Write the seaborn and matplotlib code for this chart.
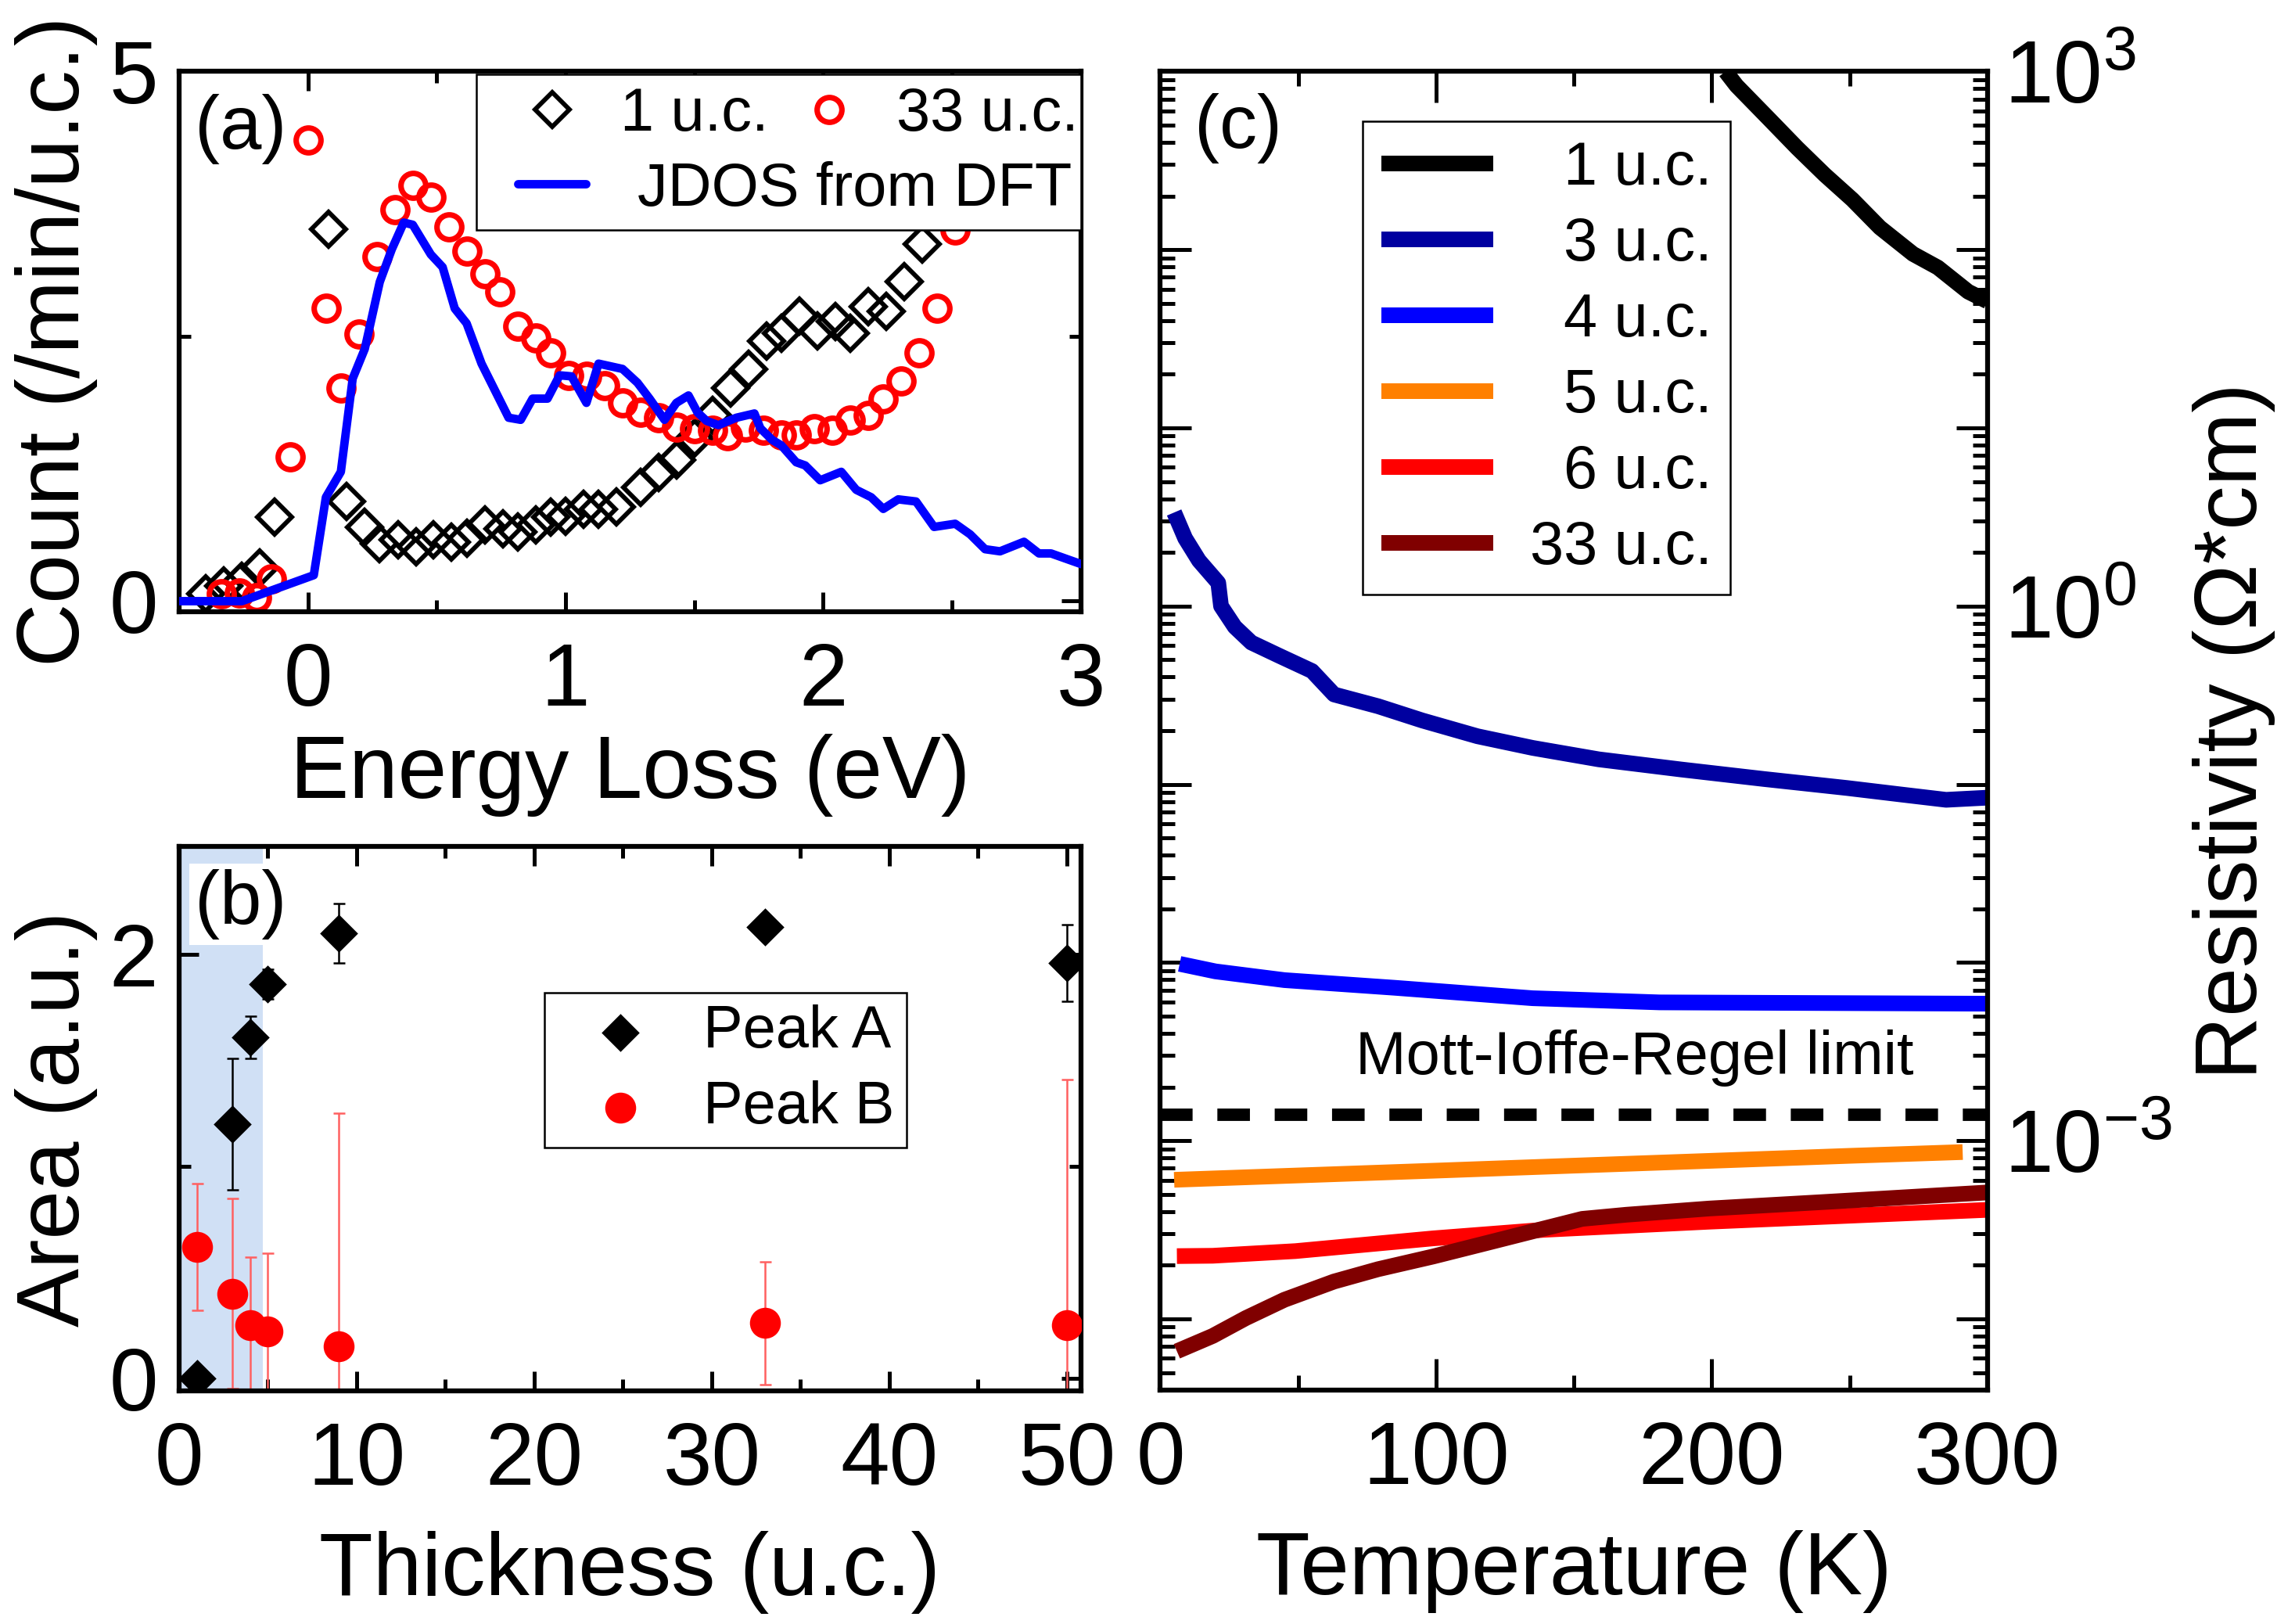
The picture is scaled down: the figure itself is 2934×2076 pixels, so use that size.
import numpy as np
import seaborn as sns
import matplotlib
matplotlib.use('Agg')
import matplotlib.pyplot as plt
from matplotlib.ticker import MultipleLocator, LogLocator, FuncFormatter, NullFormatter
from matplotlib.patches import Rectangle

sns.set_theme(style='ticks')
plt.rcParams['font.family'] = ['Liberation Sans', 'DejaVu Sans']
plt.rcParams['mathtext.fontset'] = 'custom'
plt.rcParams['mathtext.rm'] = 'Liberation Sans'
plt.rcParams['axes.linewidth'] = 1.5
plt.rcParams['axes.edgecolor'] = 'black'
for k in ['text.color', 'axes.labelcolor', 'xtick.color', 'ytick.color']:
    plt.rcParams[k] = 'black'

# (a) RIXS spectra: energy loss (eV) vs count
e_1uc = [-0.395, -0.326, -0.256, -0.186, -0.128, 0.081, 0.151, 0.221, 0.279, 0.349,
         0.419, 0.488, 0.558, 0.616, 0.686, 0.756, 0.814, 0.884, 0.942, 1.0,
         1.07, 1.128, 1.198, 1.291, 1.36, 1.43, 1.5, 1.57, 1.64, 1.709,
         1.779, 1.837, 1.907, 1.977, 2.047, 2.105, 2.174, 2.244, 2.314, 2.384]
cnt_1uc = [0.07, 0.14, 0.19, 0.31, 0.79, 3.51, 0.94, 0.70, 0.54, 0.58,
           0.51, 0.58, 0.56, 0.59, 0.72, 0.68, 0.65, 0.72, 0.79, 0.80,
           0.87, 0.87, 0.89, 1.07, 1.21, 1.33, 1.54, 1.75, 2.01, 2.19,
           2.45, 2.53, 2.69, 2.55, 2.64, 2.53, 2.78, 2.73, 3.01, 3.37]

e_33uc = [-0.337, -0.267, -0.198, -0.140, -0.07, 0.0, 0.07, 0.128, 0.198, 0.267,
          0.337, 0.407, 0.477, 0.547, 0.616, 0.686, 0.744, 0.814, 0.884, 0.942,
          1.012, 1.081, 1.151, 1.221, 1.291, 1.36, 1.43, 1.5, 1.57, 1.628,
          1.698, 1.767, 1.837, 1.895, 1.965, 2.035, 2.105, 2.174, 2.233, 2.302,
          2.372, 2.442, 2.512]
cnt_33uc = [0.07, 0.08, 0.03, 0.21, 1.36, 4.35, 2.76, 2.01, 2.52, 3.25,
            3.69, 3.92, 3.81, 3.53, 3.30, 3.09, 2.92, 2.59, 2.48, 2.34,
            2.13, 2.12, 2.03, 1.87, 1.78, 1.73, 1.64, 1.63, 1.61, 1.56,
            1.64, 1.61, 1.57, 1.57, 1.63, 1.61, 1.71, 1.75, 1.91, 2.08,
            2.34, 2.76, 3.50]

e_jdos = [-0.5, -0.256, 0.023, 0.07, 0.128, 0.174, 0.221, 0.279, 0.326, 0.372,
          0.407, 0.477, 0.523, 0.570, 0.616, 0.674, 0.779, 0.826, 0.872, 0.930,
          0.977, 1.023, 1.081, 1.128, 1.221, 1.279, 1.326, 1.384, 1.430, 1.477,
          1.512, 1.547, 1.593, 1.663, 1.733, 1.756, 1.802, 1.837, 1.895, 1.930,
          1.988, 2.070, 2.128, 2.186, 2.233, 2.291, 2.360, 2.430, 2.512, 2.570,
          2.628, 2.686, 2.779, 2.837, 2.884, 3.0]
cnt_jdos = [0.0, 0.0, 0.245, 0.98, 1.22, 2.10, 2.38, 3.01, 3.32, 3.57,
            3.55, 3.27, 3.15, 2.76, 2.62, 2.24, 1.73, 1.71, 1.91, 1.91,
            2.13, 2.12, 1.87, 2.24, 2.19, 2.06, 1.91, 1.71, 1.87, 1.94,
            1.78, 1.70, 1.66, 1.73, 1.77, 1.63, 1.52, 1.47, 1.31, 1.28,
            1.14, 1.22, 1.05, 0.98, 0.87, 0.96, 0.94, 0.70, 0.73, 0.63,
            0.49, 0.47, 0.56, 0.45, 0.45, 0.35]

# (b) peak areas vs thickness
thickness = [1, 3, 4, 5, 9, 33, 50]
area_a = [0.0, 1.20, 1.61, 1.86, 2.10, 2.13, 1.96]
err_a = [0.02, 0.31, 0.10, 0.07, 0.14, 0.03, 0.18]
area_b = [0.62, 0.40, 0.25, 0.22, 0.15, 0.26, 0.25]
err_b = [0.30, 0.45, 0.32, 0.37, 1.10, 0.29, 1.16]
shade_max = 4.7

# (c) resistivity (Ohm cm) vs temperature (K)
t_1uc = [205, 209, 221, 231, 241, 251, 261, 273, 282, 293, 300]
rho_1uc = [1000, 832, 537, 372, 263, 191, 133, 94.6, 79.4, 58.1, 51.3]
t_3uc = [5, 9, 14, 21, 22, 27, 33, 43, 55, 63, 79, 95, 115, 135, 159, 189, 219, 249, 269, 285, 300]
rho_3uc = [3.35, 2.40, 1.80, 1.35, 1.00, 0.764, 0.624, 0.527, 0.432, 0.319, 0.274, 0.228,
           0.186, 0.160, 0.138, 0.121, 0.107, 0.0953, 0.0875, 0.0818, 0.0841]
t_4uc = [7, 20, 45, 85, 135, 181, 239, 300]
rho_4uc = [9.82e-3, 8.91e-3, 7.96e-3, 7.21e-3, 6.30e-3, 5.97e-3, 5.92e-3, 5.87e-3]
t_5uc = [5, 50, 100, 150, 200, 250, 291]
rho_5uc = [6.03e-4, 6.38e-4, 6.79e-4, 7.24e-4, 7.71e-4, 8.22e-4, 8.63e-4]
t_6uc = [6, 19, 49, 99, 139, 199, 300]
rho_6uc = [2.25e-4, 2.26e-4, 2.40e-4, 2.83e-4, 3.16e-4, 3.51e-4, 4.09e-4]
t_33uc = [6, 19, 31, 45, 63, 79, 99, 119, 139, 153, 169, 199, 239, 300]
rho_33uc = [6.58e-5, 8.02e-5, 1.01e-4, 1.28e-4, 1.62e-4, 1.90e-4, 2.24e-4, 2.68e-4,
            3.21e-4, 3.64e-4, 3.84e-4, 4.16e-4, 4.51e-4, 5.12e-4]
mir_limit = 1.4e-3
labelled_decades = [-3, 0, 3]

res_series = [(t_1uc, rho_1uc, '  1 u.c.', '#000000'),
              (t_3uc, rho_3uc, '  3 u.c.', '#0000a0'),
              (t_4uc, rho_4uc, '  4 u.c.', '#0000ff'),
              (t_5uc, rho_5uc, '  5 u.c.', '#ff8000'),
              (t_6uc, rho_6uc, '  6 u.c.', '#ff0000'),
              (t_33uc, rho_33uc, '33 u.c.', '#800000')]

BIG = 27
SMALL = 18.6

fig = plt.figure(figsize=(9.78, 6.92), dpi=300)
ax_a = fig.add_axes([0.078, 0.6233, 0.393, 0.333])
ax_b = fig.add_axes([0.078, 0.1435, 0.393, 0.3353])
ax_c = fig.add_axes([0.5056, 0.144, 0.3604, 0.812])


def style_ticks(ax, major_len, minor_len):
    ax.tick_params(which='both', direction='in', top=True, right=True,
                   width=1.2, colors='black', labelsize=BIG)
    ax.tick_params(which='major', length=major_len)
    ax.tick_params(which='minor', length=minor_len)
    ax.tick_params(axis='x', pad=9)
    ax.tick_params(axis='y', pad=6.5)
    for s in ax.spines.values():
        s.set_linewidth(1.5)
        s.set_color('black')


# ---- panel (a)
sns.lineplot(x=e_1uc, y=cnt_1uc, ax=ax_a, estimator=None, sort=False, legend=False,
             linestyle='none', marker='D', markersize=7.4, markerfacecolor='none',
             markeredgecolor='black', markeredgewidth=1.4, label='1 u.c.', zorder=2)
sns.lineplot(x=e_33uc, y=cnt_33uc, ax=ax_a, estimator=None, sort=False, legend=False,
             linestyle='none', marker='o', markersize=7.6, markerfacecolor='none',
             markeredgecolor='red', markeredgewidth=1.7, label='33 u.c.', zorder=2)
sns.lineplot(x=e_jdos, y=cnt_jdos, ax=ax_a, estimator=None, sort=False, legend=False,
             color='#0000ff', linewidth=2.6, label='JDOS from DFT', zorder=3)
h_a = ax_a.get_lines()
ax_a.set_xlim(-0.5, 3)
ax_a.set_ylim(-0.1, 5)
ax_a.xaxis.set_major_locator(MultipleLocator(1))
ax_a.xaxis.set_minor_locator(MultipleLocator(0.5))
ax_a.yaxis.set_major_locator(MultipleLocator(5))
ax_a.yaxis.set_minor_locator(MultipleLocator(2.5))
style_ticks(ax_a, 6, 3.5)
ax_a.set_xlabel('Energy Loss (eV)', fontsize=BIG, labelpad=3)
ax_a.set_ylabel('Count (/min/u.c.)', fontsize=BIG, labelpad=3.5)
ax_a.text(0.068, 0.893, '(a)', transform=ax_a.transAxes, fontsize=23,
          ha='center', va='center')

ax_a.add_patch(Rectangle((0.3296, 0.706), 0.6704, 0.288, transform=ax_a.transAxes,
                         facecolor='white', edgecolor='black', linewidth=0.6, zorder=4))
leg_a1 = ax_a.legend(h_a[:2], ['1 u.c.', '33 u.c.'], ncol=2, loc='center left',
                     bbox_to_anchor=(0.380, 0.919), borderaxespad=0, borderpad=0,
                     frameon=False, fontsize=SMALL, handlelength=1.0,
                     handletextpad=0.62, columnspacing=0.5)
ax_a.add_artist(leg_a1)
ax_a.legend(h_a[2:3], ['JDOS from DFT'], loc='center left',
            bbox_to_anchor=(0.376, 0.781), borderaxespad=0, borderpad=0,
            frameon=False, fontsize=SMALL, handlelength=1.12, handletextpad=0.85)

# ---- panel (b)
ax_b.axvspan(0, shade_max, color='#d0e0f5', linewidth=0, zorder=0)
ax_b.errorbar(thickness, area_a, yerr=err_a, fmt='none', ecolor='black',
              elinewidth=0.6, capsize=1.8, capthick=0.6, zorder=2)
ax_b.errorbar(thickness, area_b, yerr=err_b, fmt='none', ecolor='#ff6060',
              elinewidth=0.6, capsize=1.8, capthick=0.6, zorder=2)
sns.scatterplot(x=thickness, y=area_a, ax=ax_b, marker='D', s=68, color='black',
                edgecolor='black', linewidth=0, legend=False, zorder=3)
sns.scatterplot(x=thickness, y=area_b, ax=ax_b, marker='o', s=90, color='#ff0000',
                edgecolor='#ff0000', linewidth=0, legend=False, zorder=3)
h_b = ax_b.collections[-2:]
ax_b.set_xlim(0, 50.8)
ax_b.set_ylim(-0.06, 2.51)
ax_b.xaxis.set_major_locator(MultipleLocator(10))
ax_b.xaxis.set_minor_locator(MultipleLocator(5))
ax_b.yaxis.set_major_locator(MultipleLocator(2))
ax_b.yaxis.set_minor_locator(MultipleLocator(1))
style_ticks(ax_b, 6, 3.5)
ax_b.set_xlabel('Thickness (u.c.)', fontsize=BIG, labelpad=8.5)
ax_b.set_ylabel('Area (a.u.)', fontsize=BIG, labelpad=3.5)
ax_b.text(0.068, 0.894, '(b)', transform=ax_b.transAxes, fontsize=23,
          ha='center', va='center', zorder=4,
          bbox=dict(facecolor='white', edgecolor='none', pad=1.5))
leg_b = ax_b.legend(h_b, ['Peak A', 'Peak B'], loc='upper left',
                    bbox_to_anchor=(0.405, 0.731), borderaxespad=0, fontsize=18.2,
                    handlelength=2.15, handletextpad=0.33, borderpad=0.2,
                    labelspacing=0.34, fancybox=False, edgecolor='black',
                    framealpha=1, scatterpoints=1)
leg_b.get_frame().set_linewidth(0.6)

# ---- panel (c)
ax_c.set_yscale('log')
for t, rho, lab, col in res_series:
    sns.lineplot(x=t, y=rho, ax=ax_c, estimator=None, sort=False, legend=False,
                 color=col, linewidth=4.8, label=lab, solid_capstyle='butt')
h_c = ax_c.get_lines()[:len(res_series)]
ax_c.hlines(mir_limit, 0, 300, colors='black', linewidth=3.8,
            linestyles=(0, (2.63, 2.0)))
ax_c.text(172, 2.37e-3, 'Mott-Ioffe-Regel limit', fontsize=SMALL,
          ha='center', va='baseline')
ax_c.set_xlim(0, 300)
ax_c.set_ylim(10 ** -4.4, 1000)
ax_c.xaxis.set_major_locator(MultipleLocator(100))
ax_c.xaxis.set_minor_locator(MultipleLocator(50))
ax_c.yaxis.set_major_locator(LogLocator(base=10, numticks=30))
ax_c.yaxis.set_minor_locator(LogLocator(base=10, subs=np.arange(2, 10), numticks=300))
ax_c.yaxis.set_major_formatter(FuncFormatter(
    lambda v, p: r'$\mathregular{10^{%d}}$' % round(np.log10(v))
    if round(np.log10(v)) in labelled_decades else ''))
ax_c.yaxis.set_minor_formatter(NullFormatter())
style_ticks(ax_c, 9.5, 4.5)
ax_c.tick_params(axis='y', which='both', labelleft=False, labelright=True, pad=5)
ax_c.yaxis.set_label_position('right')
ax_c.set_xlabel('Temperature (K)', fontsize=BIG, labelpad=8.5)
ax_c.set_ylabel('Resistivity (\u03a9*cm)', fontsize=BIG, labelpad=6.5)
ax_c.text(0.0946, 0.957, '(c)', transform=ax_c.transAxes, fontsize=23,
          ha='center', va='center')
leg_c = ax_c.legend(h_c, [s[2] for s in res_series], loc='upper left',
                    bbox_to_anchor=(0.245, 0.962), borderaxespad=0, fontsize=SMALL,
                    handlelength=1.85, handletextpad=0.6, labelspacing=0.31,
                    borderpad=0.3, fancybox=False, edgecolor='black', framealpha=1)
leg_c.get_frame().set_linewidth(0.6)

fig.savefig('out.png', dpi=300)
